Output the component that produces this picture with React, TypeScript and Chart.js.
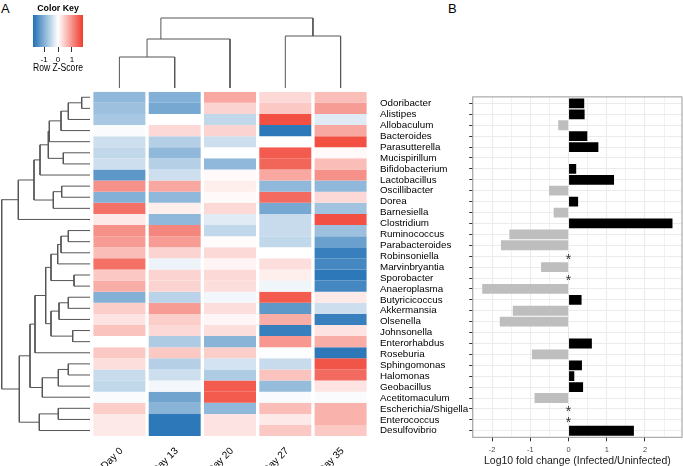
import React, { useEffect, useRef } from "react";
import { Chart, registerables } from "chart.js";

Chart.register(...registerables);

const FONT = "'Liberation Sans', Arial, Helvetica, sans-serif";

// ---------- data ----------
const taxa = [
  "Odoribacter", "Alistipes", "Allobaculum", "Bacteroides", "Parasutterella",
  "Mucispirillum", "Bifidobacterium", "Lactobacillus", "Oscillibacter", "Dorea",
  "Barnesiella", "Clostridium", "Ruminococcus", "Parabacteroides", "Robinsoniella",
  "Marvinbryantia", "Sporobacter", "Anaeroplasma", "Butyricicoccus", "Akkermansia",
  "Olsenella", "Johnsonella", "Enterorhabdus", "Roseburia", "Sphingomonas",
  "Halomonas", "Geobacillus", "Acetitomaculum", "Escherichia/Shigella", "Enterococcus",
  "Desulfovibrio",
];

const days = ["Day 0", "Day 13", "Day 20", "Day 27", "Day 35"];

// Row Z-scores per day (rows in the order of taxa)
const zDay0 = [-0.9, -0.8, -0.7, -0.05, -0.4, -0.5, -0.4, -1.3, 1.0, -1.0, 1.3, 0.2, 1.0, 0.9, 0.6, 1.3, 0.5, 0.75, -1.0, 0.45, 0.25, 0.55, 0.0, 0.5, 0.3, -0.45, -0.5, -0.05, 0.45, 0.2, 0.2];
const zDay13 = [-1.0, -1.1, 0.0, 0.35, -0.6, -0.9, -0.6, -0.4, 0.8, -0.9, 0.15, -0.9, 1.1, 0.9, 0.4, -0.15, 0.4, 0.4, -0.55, 0.9, 0.45, 0.35, -0.65, 0.5, -0.6, -0.4, -0.1, -1.15, -0.95, -1.7, -1.7];
const zDay20 = [0.8, 0.4, -0.5, 0.4, -0.4, 0.0, -0.9, 0.05, 0.15, 0.05, 0.35, -0.25, -0.5, 0.03, 0.35, 0.1, 0.35, 0.3, -0.1, 0.3, 0.08, 0.3, -0.95, 0.45, -0.35, -0.65, 1.5, 1.5, -0.9, 0.25, 0.25];
const zDay27 = [0.35, 0.5, 1.6, -1.7, 0.0, 1.5, 1.4, 0.8, -0.9, 1.35, -1.1, -0.45, -0.45, -0.5, 0.0, 0.3, 0.15, -0.12, 1.5, -1.3, 0.75, -1.6, 0.95, -0.03, -0.45, 0.55, -0.85, -0.06, 0.6, 0.2, 0.5];
const zDay35 = [0.6, 0.9, -0.25, 0.8, 1.6, 0.05, 0.6, 1.0, -0.9, 0.35, -0.75, 1.6, -0.8, -1.2, -1.6, -1.5, -1.7, -1.5, 0.2, -0.4, -1.6, 0.25, 0.75, -1.7, 1.55, 1.35, 0.25, -0.05, 0.7, 0.7, 0.5];
const zByDay = [zDay0, zDay13, zDay20, zDay27, zDay35];

// Log10 fold change (Infected/Uninfected); null = not available (*)
const logFC: (number | null)[] = [0.41, 0.42, -0.27, 0.49, 0.78, -0.01, 0.2, 1.19, -0.51, 0.25, -0.39, 2.72, -1.55, -1.77, null, -0.72, null, -2.26, 0.34, -1.46, -1.8, -0.01, 0.61, -0.96, 0.35, 0.15, 0.38, -0.89, null, null, 1.71];

// Dendrogram merges (R hclust style: negative = leaf index (1-based), positive = earlier merge),
// height, and optional stem position (leaf units) as drawn in the figure
const rowMerges: [number, number, number, number?][] = [
  [-1, -2, 0.83], [1, -3, 2.17], [2, -4, 2.9], [3, -5, 4.07], [-6, -7, 2.67],
  [4, 5, 4.17], [6, -8, 5.0], [-9, -10, 2.83], [8, -11, 3.67], [7, 9, 5.6],
  [10, -12, 7.17], [-13, -14, 2.17], [12, -15, 2.9], [13, -16, 3.23], [-17, -18, 1.6],
  [14, 15, 3.9], [-19, -20, 2.17], [17, -21, 3.1], [-22, -23, 1.73], [18, 19, 3.9],
  [16, 20, 4.43], [21, -24, 5.5], [-25, -26, 2.17], [23, -27, 3.17], [24, -28, 4.77],
  [22, 25, 6.0], [-29, -30, 3.17], [27, -31, 5.07], [26, 28, 7.07], [11, 29, 8.83],
];
const colMerges: [number, number, number, number?][] = [
  [-1, -2, 3.1], [1, -3, 4.9, 0.75], [-4, -5, 5.2], [2, 3, 7.0],
];

const zKeyTicks = [-1, 0, 1];
const fcTicks = [-2.5, -2, -1.5, -1, -0.5, 0, 0.5, 1, 1.5, 2, 2.5];

// ---------- helpers ----------
const Z_MAX = 1.789;
const BLUE = [33, 113, 181];
const WHITE = [255, 255, 255];
const RED = [239, 59, 44];
function zColor(z: number) {
  const t = Math.max(-1, Math.min(1, z / Z_MAX));
  const end = t < 0 ? BLUE : RED;
  const a = Math.abs(t);
  const c = WHITE.map((w, k) => Math.round(w + (end[k] - w) * a));
  return `rgb(${c[0]},${c[1]},${c[2]})`;
}

function dendrogram(merges: [number, number, number, number?][]) {
  const pos: number[] = [];
  const hgt: number[] = [];
  const segs: { p: number; h: number }[][] = [];
  const node = (r: number) => (r < 0 ? { p: -r - 1, h: 0 } : { p: pos[r - 1], h: hgt[r - 1] });
  merges.forEach(([a, b, h, stem]) => {
    const A = node(a);
    const B = node(b);
    segs.push([
      { p: A.p, h: A.h }, { p: A.p, h }, { p: B.p, h }, { p: B.p, h: B.h },
    ]);
    pos.push(stem !== undefined ? stem : (A.p + B.p) / 2);
    hgt.push(h);
  });
  return segs;
}

const fcVals = logFC.filter((v) => v !== null) as number[];
const fcLo = Math.min(...fcVals);
const fcHi = Math.max(...fcVals);
const FC_MIN = fcLo - 0.05 * (fcHi - fcLo);
const FC_MAX = fcHi + 0.05 * (fcHi - fcLo);

const common: any = {
  animation: false,
  responsive: false,
  events: [],
  plugins: { legend: { display: false }, tooltip: { enabled: false }, title: { display: false } },
};

const DENDRO_COLOR = "#555";

const panelBorder = {
  id: "panelBorder",
  afterDraw(chart: any) {
    const { ctx, chartArea: a } = chart;
    ctx.save();
    ctx.strokeStyle = "#9a9a9a";
    ctx.lineWidth = 1;
    ctx.strokeRect(a.left, a.top, a.right - a.left, a.bottom - a.top);
    ctx.restore();
  },
};

const asterisks = {
  id: "asterisks",
  afterDatasetsDraw(chart: any) {
    const { ctx, scales } = chart;
    ctx.save();
    ctx.fillStyle = "#333";
    ctx.font = `14px ${FONT}`;
    ctx.textAlign = "center";
    ctx.textBaseline = "middle";
    logFC.forEach((v, i) => {
      if (v === null) {
        ctx.fillText("*", scales.x.getPixelForValue(0), scales.y.getPixelForValue(i) + 3.5);
      }
    });
    ctx.restore();
  },
};

export default function App() {
  const keyRef = useRef<HTMLCanvasElement>(null);
  const colDRef = useRef<HTMLCanvasElement>(null);
  const rowDRef = useRef<HTMLCanvasElement>(null);
  const heatRef = useRef<HTMLCanvasElement>(null);
  const fcRef = useRef<HTMLCanvasElement>(null);

  useEffect(() => {
    const charts: Chart[] = [];

    // Color key
    charts.push(
      new Chart(keyRef.current!, {
        type: "bar",
        data: {
          labels: [""],
          datasets: [
            {
              data: [[-Z_MAX, Z_MAX]] as any,
              backgroundColor: (ctx: any) => {
                const chart = ctx.chart;
                if (!chart.chartArea) return "#fff";
                const xs = chart.scales.x;
                const g = chart.ctx.createLinearGradient(xs.getPixelForValue(-Z_MAX), 0, xs.getPixelForValue(Z_MAX), 0);
                for (let k = 0; k <= 40; k++) {
                  g.addColorStop(k / 40, zColor(-Z_MAX + (2 * Z_MAX * k) / 40));
                }
                return g;
              },
              borderWidth: 0,
              barPercentage: 1,
              categoryPercentage: 1,
            },
          ],
        },
        options: {
          ...common,
          indexAxis: "y",
          layout: { padding: { left: 13, right: 13, top: 0, bottom: 0 } },
          plugins: {
            ...common.plugins,
            title: {
              display: true,
              text: "Color Key",
              color: "#000",
              font: { family: FONT, size: 8.8, weight: "bold", lineHeight: 1.2 },
              padding: { top: 3, bottom: 1.4 },
            },
          },
          scales: {
            x: {
              type: "linear",
              min: -Z_MAX,
              max: Z_MAX,
              afterBuildTicks: (s: any) => {
                s.ticks = zKeyTicks.map((v) => ({ value: v }));
              },
              grid: { display: true, drawOnChartArea: false, drawTicks: true, tickLength: 5, tickColor: "#333" },
              border: { display: false },
              ticks: { padding: 3.2, color: "#000", font: { family: FONT, size: 8 }, callback: (v: any) => String(v) },
              title: {
                display: true,
                text: "Row Z-Score",
                color: "#000",
                font: { family: FONT, size: 10, lineHeight: 1.2 },
                padding: { top: 0, bottom: 2 },
              },
              afterFit: (s: any) => {
                s.height = 29;
              },
            },
            y: { display: false },
          },
        } as any,
      })
    );

    // Column dendrogram
    const colSegs = dendrogram(colMerges);
    charts.push(
      new Chart(colDRef.current!, {
        type: "scatter",
        data: {
          datasets: colSegs.map((seg) => ({
            data: seg.map((s) => ({ x: s.p, y: s.h })),
            showLine: true,
            borderColor: DENDRO_COLOR,
            borderWidth: 1,
            pointRadius: 0,
            tension: 0,
            clip: false,
          })),
        },
        options: {
          ...common,
          layout: { padding: { left: 0.75, right: 0.75, top: 2, bottom: 2 } },
          scales: {
            x: { type: "linear", display: false, min: -0.5, max: days.length - 0.5 },
            y: { type: "linear", display: false, min: 0, max: 7.8 },
          },
        } as any,
      })
    );

    // Row dendrogram
    const rowSegs = dendrogram(rowMerges);
    charts.push(
      new Chart(rowDRef.current!, {
        type: "scatter",
        data: {
          datasets: rowSegs.map((seg) => ({
            data: seg.map((s) => ({ x: s.h, y: s.p + 0.5 })),
            showLine: true,
            borderColor: DENDRO_COLOR,
            borderWidth: 1,
            pointRadius: 0,
            tension: 0,
            clip: false,
          })),
        },
        options: {
          ...common,
          layout: { padding: { left: 0, right: 2, top: 0.7, bottom: 0.9 } },
          scales: {
            x: { type: "linear", display: false, min: 0, max: 9, reverse: true },
            y: { type: "linear", display: false, min: 0, max: taxa.length, reverse: true },
          },
        } as any,
      })
    );

    // Heatmap
    charts.push(
      new Chart(heatRef.current!, {
        type: "bar",
        data: {
          labels: days,
          datasets: taxa.map((name, i) => ({
            label: name,
            data: days.map(() => 1),
            backgroundColor: zByDay.map((col) => zColor(col[i])),
            borderWidth: 0,
            barPercentage: 0.94,
            categoryPercentage: 1,
          })),
        },
        options: {
          ...common,
          layout: { padding: { left: 0.75, right: 0.75, top: 0.7, bottom: 0 } },
          scales: {
            x: {
              stacked: true,
              grid: { display: false },
              border: { display: false },
              ticks: {
                autoSkip: false,
                minRotation: 45,
                maxRotation: 45,
                padding: 1,
                labelOffset: 2,
                color: "#000",
                font: { family: FONT, size: 10 },
              },
              afterFit: (s: any) => {
                s.height = 54.9;
              },
            },
            y: { stacked: true, display: false, min: 0, max: taxa.length, reverse: true },
          },
        } as any,
      })
    );

    // Log fold change bars
    charts.push(
      new Chart(fcRef.current!, {
        type: "bar",
        data: {
          datasets: [
            {
              data: logFC
                .map((v, i) => (v === null ? null : { x: v, y: i }))
                .filter((d) => d !== null) as any,
              backgroundColor: (ctx: any) => ((ctx.raw && ctx.raw.x >= 0) ? "#000" : "#bebebe"),
              borderWidth: 0,
              barPercentage: 0.9,
              categoryPercentage: 1,
            },
          ],
        },
        options: {
          ...common,
          indexAxis: "y",
          layout: { padding: { left: 0, right: 1, top: 2.6, bottom: 0 } },
          scales: {
            x: {
              type: "linear",
              min: FC_MIN,
              max: FC_MAX,
              afterBuildTicks: (s: any) => {
                s.ticks = fcTicks.map((v) => ({ value: v }));
              },
              grid: {
                color: "#ebebeb",
                lineWidth: (c: any) => (c.tick && Number.isInteger(c.tick.value) ? 1 : 0.7),
                tickLength: 4,
                tickColor: (c: any) => (c.tick && Number.isInteger(c.tick.value) ? "#333" : "rgba(0,0,0,0)"),
              },
              border: { display: false },
              ticks: {
                autoSkip: false,
                maxRotation: 0,
                padding: 4.2,
                color: "#4d4d4d",
                font: { family: FONT, size: 7.5 },
                callback: (v: any) => (Number.isInteger(v) ? String(v) : ""),
              },
              title: {
                display: true,
                text: "Log10 fold change (Infected/Uninfected)",
                color: "#1a1a1a",
                font: { family: FONT, size: 10.5, lineHeight: 1 },
                padding: { top: 0, bottom: 0 },
              },
              afterFit: (s: any) => {
                s.height = 28.7;
              },
            },
            y: {
              type: "linear",
              min: -0.6,
              max: taxa.length - 0.4,
              reverse: true,
              offset: false,
              afterBuildTicks: (s: any) => {
                s.ticks = taxa.map((_, i) => ({ value: i }));
              },
              grid: { color: "#ebebeb", offset: false, tickLength: 3.5, tickColor: "#333" },
              border: { display: false },
              ticks: {
                autoSkip: false,
                crossAlign: "far",
                color: "#000",
                font: { family: FONT, size: 9.8 },
                callback: (v: any) => taxa[v],
              },
              afterFit: (s: any) => {
                s.width = 92.7;
              },
            },
          },
        } as any,
        plugins: [panelBorder, asterisks],
      })
    );

    return () => charts.forEach((c) => c.destroy());
  }, []);

  const abs = (l: number, t: number): React.CSSProperties => ({ position: "absolute", left: l, top: t });

  return (
    <div
      style={{
        position: "absolute",
        left: 0,
        top: 0,
        width: 683,
        height: 466,
        overflow: "hidden",
        background: "#fff",
        fontFamily: FONT,
      }}
    >
      <div style={{ ...abs(1, 2.3), fontSize: 13, lineHeight: "13px", color: "#000" }}>A</div>
      <div style={{ ...abs(448, 2.3), fontSize: 13, lineHeight: "13px", color: "#000" }}>B</div>
      <canvas ref={keyRef} width={76} height={76} style={{ ...abs(20, 0), width: 76, height: 76 }} />
      <canvas ref={colDRef} width={278} height={82} style={{ ...abs(91, 8), width: 278, height: 82 }} />
      <canvas ref={rowDRef} width={92} height={346} style={{ ...abs(0, 91), width: 92, height: 346 }} />
      <canvas ref={heatRef} width={278} height={400} style={{ ...abs(91, 91), width: 278, height: 400 }} />
      <canvas ref={fcRef} width={303} height={378} style={{ ...abs(380, 88), width: 303, height: 378 }} />
    </div>
  );
}
